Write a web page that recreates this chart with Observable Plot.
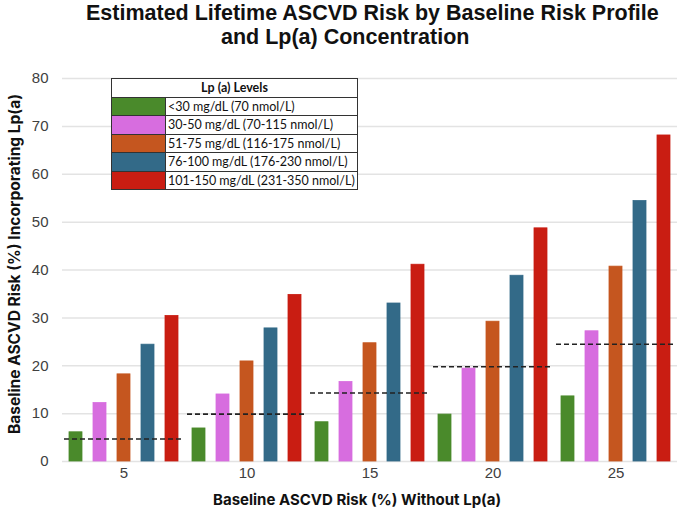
<!DOCTYPE html>
<html>
<head>
<meta charset="utf-8">
<script src="https://cdn.jsdelivr.net/npm/d3@7"></script>
<script src="https://cdn.jsdelivr.net/npm/@observablehq/plot@0.6"></script>
<style>
  body { margin: 0; background: #fff; }
  #wrap { position: relative; width: 680px; height: 515px; overflow: hidden; font-family: "Liberation Sans", Arial, sans-serif; }
  #wrap svg { position: absolute; left: 0; top: 0; }
  .title { position: absolute; font-weight: bold; font-size: 21.5px; color: #111; white-space: nowrap; }
  .xlab { position: absolute; font-family: Inter, "Liberation Sans", sans-serif; font-weight: 700; font-size: 15px; color: #111; white-space: nowrap; }
  .ylab { position: absolute; font-family: Inter, "Liberation Sans", sans-serif; font-weight: 700; font-size: 15.5px; color: #111; white-space: nowrap; transform: translate(-50%, -50%) rotate(-90deg); }
  table.legend { position: absolute; left: 111px; top: 78px; width: 247px; border-collapse: collapse; background: #fff; font-family: Lato, "Open Sans", sans-serif; font-size: 12.5px; color: #111; }
  table.legend td, table.legend th { border: 1px solid #333; padding: 0 2px; height: 17.5px; line-height: 17px; white-space: nowrap; }
  table.legend th { font-weight: bold; text-align: center; }
  table.legend td.sw { width: 53px; padding: 0; }
</style>
</head>
<body>
<div id="wrap"></div>
<script>
const groups = [5, 10, 15, 20, 25];
const levels = [
  "<30 mg/dL (70 nmol/L)",
  "30-50 mg/dL (70-115 nmol/L)",
  "51-75 mg/dL (116-175 nmol/L)",
  "76-100 mg/dL (176-230 nmol/L)",
  "101-150 mg/dL (231-350 nmol/L)"
];
const colors = ["#4a8a2b", "#d76ddf", "#c5561f", "#336a88", "#c91d12"];
const vLt30   = [6.1, 6.9, 8.2, 9.8, 13.6];
const v30to50 = [12.2, 14.0, 16.6, 19.4, 27.2];
const v51to75 = [18.2, 20.9, 24.7, 29.2, 40.7];
const v76to100 = [24.4, 27.8, 33.0, 38.8, 54.4];
const v101to150 = [30.4, 34.8, 41.1, 48.7, 68.1];
const baseline = [4.7, 9.9, 14.3, 19.8, 24.5];
const yTicks = [0, 10, 20, 30, 40, 50, 60, 70, 80];

const series = [vLt30, v30to50, v51to75, v76to100, v101to150];
const bars = [];
groups.forEach((g, gi) => series.forEach((s, li) => bars.push({group: g, level: levels[li], value: s[gi]})));
const base = groups.map((g, i) => ({group: g, value: baseline[i]}));

const chart = Plot.plot({
  width: 680,
  height: 515,
  marginTop: 78,
  marginBottom: 54,
  marginLeft: 61,
  marginRight: 2,
  style: {fontFamily: "'Liberation Sans', Arial, sans-serif", fontSize: "15px", color: "#404040", background: "transparent"},
  fx: {domain: groups, padding: 0, label: null},
  x: {domain: levels, paddingInner: 0.47, paddingOuter: 0.235, axis: null},
  y: {domain: [0, 80], ticks: yTicks, label: null},
  color: {domain: levels, range: colors},
  marks: [
    Plot.gridY(yTicks, {stroke: "#e3e3e3", strokeOpacity: 1, strokeWidth: 1.5}),
    Plot.axisY(yTicks, {tickSize: 0, tickPadding: 14, label: null, fill: "#404040"}),
    Plot.axisFx({anchor: "bottom", tickSize: 0, tickPadding: 6, label: null, fill: "#404040"}),
    Plot.barY(bars, {fx: "group", x: "level", y: "value", fill: "level", stroke: "level", strokeWidth: 0.8}),
    Plot.ruleY(base, {fx: "group", y: "value", stroke: "#222", strokeWidth: 1.6, strokeDasharray: "5,3", insetLeft: 2, insetRight: 4})
  ]
});

const wrap = document.getElementById("wrap");
wrap.appendChild(chart);

function addDiv(cls, text, styleObj) {
  const d = document.createElement("div");
  d.className = cls;
  d.textContent = text;
  Object.assign(d.style, styleObj);
  wrap.appendChild(d);
  return d;
}
addDiv("title", "Estimated Lifetime ASCVD Risk by Baseline Risk Profile", {left: "86px", top: "1px"});
addDiv("title", "and Lp(a) Concentration", {left: "221px", top: "25px"});
addDiv("xlab", "Baseline ASCVD Risk (%) Without Lp(a)", {left: "213px", top: "490px"});
addDiv("ylab", "Baseline ASCVD Risk (%) Incorporating Lp(a)", {left: "14px", top: "264px"});

const table = document.createElement("table");
table.className = "legend";
const hr = table.insertRow();
const th = document.createElement("th");
th.colSpan = 2;
th.textContent = "Lp (a) Levels";
hr.appendChild(th);
levels.forEach((lv, i) => {
  const r = table.insertRow();
  const c1 = r.insertCell();
  c1.className = "sw";
  c1.style.background = colors[i];
  const c2 = r.insertCell();
  c2.textContent = lv;
});
wrap.appendChild(table);
</script>
</body>
</html>
